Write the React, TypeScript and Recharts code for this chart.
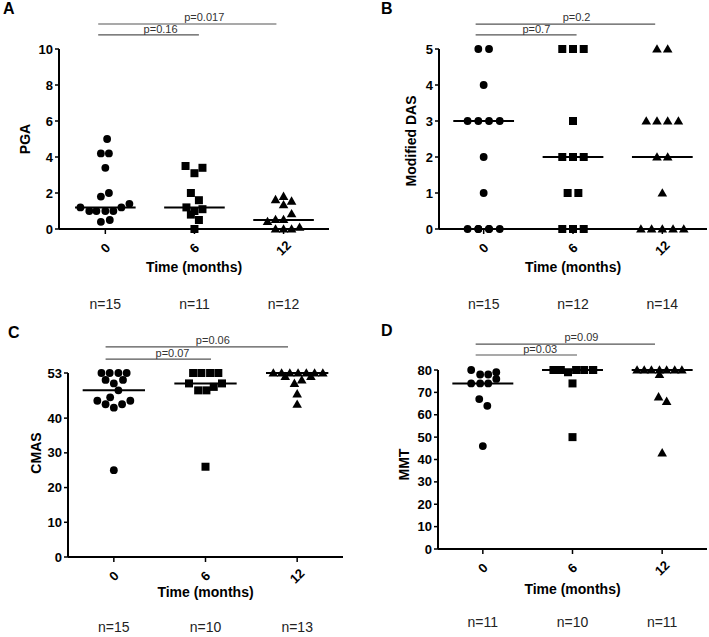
import React from 'react';
import { ReferenceDot, ReferenceLine, Scatter, ScatterChart, XAxis, YAxis } from 'recharts';

// each point: [jitter inside its time group, value]
type Pt = [number, number];
type PBracket = { from: number; to: number; y: number; text: string; at: number };

const MONTHS = ['0', '6', '12'];
const GROUP_TICKS = [0, 1, 2];

// A - PGA
const pga0: Pt[] = [
  [0.02, 5.0], [-0.05, 4.2], [0.04, 4.2], [0, 3.4], [0.04, 2.0], [-0.05, 1.8], [-0.28, 1.2],
  [-0.18, 1.0], [-0.1, 1.0], [0, 1.0], [0.09, 1.0], [0.18, 1.2], [0.27, 1.4], [-0.05, 0.4], [0.05, 0.5],
];
const pga6: Pt[] = [
  [-0.1, 3.5], [0, 3.1], [0.09, 3.4], [-0.04, 2.0], [0.05, 1.6], [-0.09, 1.2],
  [0, 1.0], [0.09, 1.1], [-0.04, 0.8], [0.05, 0.5], [0, 0],
];
const pga12: Pt[] = [
  [-0.09, 1.63], [0, 1.81], [0.09, 1.55], [0, 1.35], [0.09, 0.85], [-0.18, 0.42],
  [-0.09, 0.53], [0, 0.53], [-0.09, 0], [0, 0], [0.09, 0], [0.18, 0.1],
];
const pgaMedians = [1.2, 1.2, 0.5];
const pgaTicks = [0, 2, 4, 6, 8, 10];
const pgaN = ['n=15', 'n=11', 'n=12'];
const pgaP: PBracket[] = [
  { from: -0.08, to: 1.92, y: 11.39, text: 'p=0.017', at: 1.11 },
  { from: -0.08, to: 1.05, y: 10.78, text: 'p=0.16', at: 0.62 },
];

// B - Modified DAS
const das0: Pt[] = [
  [-0.06, 5], [0.06, 5], [0, 4], [-0.18, 3], [-0.06, 3], [0.06, 3], [0.18, 3], [0, 2], [0, 1],
  [-0.18, 0], [-0.06, 0], [0.06, 0], [0.18, 0], [-0.06, 0], [0.06, 0],
];
const das6: Pt[] = [
  [-0.12, 5], [0, 5], [0.12, 5], [0, 3], [-0.12, 2], [0, 2], [0.12, 2], [-0.06, 1], [0.06, 1],
  [-0.12, 0], [0, 0], [0.12, 0],
];
const das12: Pt[] = [
  [-0.06, 5], [0.06, 5], [-0.18, 3], [-0.06, 3], [0.06, 3], [0.18, 3], [-0.06, 2], [0.06, 2], [0, 1],
  [-0.24, 0], [-0.12, 0], [0, 0], [0.12, 0], [0.24, 0],
];
const dasMedians = [3, 2, 2];
const dasTicks = [0, 1, 2, 3, 4, 5];
const dasN = ['n=15', 'n=12', 'n=14'];
const dasP: PBracket[] = [
  { from: -0.09, to: 1.92, y: 5.69, text: 'p=0.2', at: 1.04 },
  { from: -0.09, to: 1.04, y: 5.39, text: 'p=0.7', at: 0.59 },
];

// C - CMAS
const cmas0: Pt[] = [
  [-0.135, 53], [-0.045, 53], [0.05, 53], [0.14, 53], [-0.09, 51], [0.1, 51], [0, 50], [0.05, 48],
  [-0.04, 46], [-0.18, 45], [-0.09, 44], [0, 43], [0.09, 44], [0.18, 45], [0, 25],
];
const cmas6: Pt[] = [
  [-0.135, 53], [-0.045, 53], [0.05, 53], [0.14, 53], [-0.18, 50], [0.18, 50], [0.09, 49],
  [-0.08, 48], [0.01, 48], [0, 26],
];
const cmas12: Pt[] = [
  [-0.26, 53], [-0.17, 53], [-0.08, 53], [0.01, 53], [0.1, 53], [0.19, 53], [0.28, 53],
  [-0.13, 52], [0.15, 52], [-0.03, 50], [0.05, 51], [0, 47], [0, 44],
];
const cmasMedians = [48, 50, 53];
const cmasTicks = [0, 10, 20, 30, 40, 53];
const cmasN = ['n=15', 'n=10', 'n=13'];
const cmasP: PBracket[] = [
  { from: -0.09, to: 1.9, y: 60.5, text: 'p=0.06', at: 1.08 },
  { from: -0.09, to: 1.06, y: 57.0, text: 'p=0.07', at: 0.64 },
];

// D - MMT
const mmt0: Pt[] = [
  [-0.13, 80], [-0.03, 78], [0.06, 78], [0.15, 79], [0.15, 76], [-0.13, 74], [-0.03, 74], [0.06, 74],
  [-0.04, 67], [0.05, 64], [0, 46],
];
const mmt6: Pt[] = [
  [-0.21, 80], [-0.13, 80], [-0.05, 79], [0.04, 80], [0.13, 80], [0.23, 80], [-0.21, 80], [0.23, 80],
  [0, 74], [0, 50],
];
const mmt12: Pt[] = [
  [-0.28, 80], [-0.2, 80], [-0.12, 80], [-0.03, 80], [0.05, 80], [0.14, 80], [0.22, 80], [-0.03, 78],
  [-0.04, 68], [0.05, 66], [0, 43],
];
const mmtMedians = [74, 80, 80];
const mmtTicks = [0, 10, 20, 30, 40, 50, 60, 70, 80];
const mmtN = ['n=11', 'n=10', 'n=11'];
const mmtP: PBracket[] = [
  { from: -0.08, to: 1.92, y: 91.6, text: 'p=0.09', at: 1.1 },
  { from: -0.08, to: 1.05, y: 86.7, text: 'p=0.03', at: 0.64 },
];

const FONT = '"Liberation Sans", Arial, sans-serif';

const Dot = (p: any) => <circle cx={p.cx} cy={p.cy} r={3.9} fill='#000' />;
const Square = (p: any) => <rect x={p.cx - 4} y={p.cy - 4} width={8} height={8} fill='#000' />;
const Triangle = (p: any) => (
  <path d={`M${p.cx},${p.cy - 4.8}L${p.cx + 4.8},${p.cy + 3.6}L${p.cx - 4.8},${p.cy + 3.6}Z`} fill='#000' />
);
const SHAPES = [Dot, Square, Triangle];

// rotated month label, plus the group size further down
const MonthTick = ({ x, y, payload, nLabels, nDy }: any) => {
  const cy = y + 12;
  return (
    <g>
      <text x={x} y={cy} transform={`rotate(-45 ${x} ${cy})`} textAnchor='middle' dominantBaseline='central'
        fontSize={13} fontWeight='bold' fill='#000'>
        {MONTHS[payload.value]}
      </text>
      <text x={x} y={y + nDy} textAnchor='middle' dominantBaseline='central' fontSize={14} fill='#222'>
        {nLabels[payload.value]}
      </text>
    </g>
  );
};

const YTitle = ({ viewBox, value, x0, dy }: any) => {
  if (!viewBox) return null;
  const cx = viewBox.x + x0;
  const cy = viewBox.y + viewBox.height / 2 + dy;
  return (
    <text x={cx} y={cy} transform={`rotate(-90 ${cx} ${cy})`} textAnchor='middle' dominantBaseline='central'
      fontSize={14} fontWeight='bold' fill='#000'>
      {value}
    </text>
  );
};

type PanelProps = {
  letter: string;
  yLabel: string;
  groups: Pt[][];
  medians: number[];
  nLabels: string[];
  yDomain: [number, number];
  yTicks: number[];
  pvals: PBracket[];
  left: number;
  top: number;
  width: number;
  height: number;
  margin: { top: number; right: number; bottom: number; left: number };
  yAxisWidth: number;
  xDomain: [number, number];
  yLabelX: number;
  yLabelDy: number;
  xAxisHeight: number;
  xLabelOffset: number;
  nDy: number;
  letterLeft: number;
  letterTop: number;
};

const Panel: React.FC<PanelProps> = (p) => (
  <div style={{ position: 'absolute', left: p.left, top: p.top, width: p.width, height: p.height }}>
    <div style={{ position: 'absolute', left: p.letterLeft, top: p.letterTop, fontSize: 16, lineHeight: '16px', fontWeight: 'bold' }}>
      {p.letter}
    </div>
    <ScatterChart width={p.width} height={p.height} margin={p.margin} style={{ overflow: 'visible' }}>
      <XAxis
        dataKey='x'
        type='number'
        domain={p.xDomain}
        ticks={GROUP_TICKS}
        interval={0}
        height={p.xAxisHeight}
        axisLine={{ stroke: '#000', strokeWidth: 2 }}
        tickLine={{ stroke: '#000', strokeWidth: 1.5 }}
        tickSize={5}
        tickMargin={2}
        tick={(t: any) => <MonthTick {...t} nLabels={p.nLabels} nDy={p.nDy} />}
        label={{ value: 'Time (months)', position: 'insideBottom', offset: p.xLabelOffset, fontSize: 14, fontWeight: 'bold', fill: '#000' }}
      />
      <YAxis
        dataKey='y'
        type='number'
        domain={p.yDomain}
        ticks={p.yTicks}
        interval={0}
        width={p.yAxisWidth}
        axisLine={{ stroke: '#000', strokeWidth: 2 }}
        tickLine={{ stroke: '#000', strokeWidth: 1.5 }}
        tickSize={4}
        tickMargin={2}
        tick={{ fontSize: 13, fontWeight: 'bold', fill: '#000' }}
        label={{ value: p.yLabel, content: (l: any) => <YTitle {...l} x0={p.yLabelX} dy={p.yLabelDy} /> }}
      />
      {p.groups.map((g, i) => (
        <Scatter
          key={`g-${i}`}
          data={g.map(([dx, v]) => ({ x: i + dx, y: v }))}
          shape={SHAPES[i]}
          isAnimationActive={false}
        />
      ))}
      {p.medians.map((m, i) => (
        <ReferenceLine
          key={`m-${i}`}
          segment={[{ x: i - 0.34, y: m }, { x: i + 0.34, y: m }]}
          stroke='#000'
          strokeWidth={2}
          ifOverflow='visible'
        />
      ))}
      {p.pvals.map((b, i) => (
        <ReferenceLine
          key={`b-${i}`}
          segment={[{ x: b.from, y: b.y }, { x: b.to, y: b.y }]}
          stroke='#555'
          strokeWidth={1.2}
          ifOverflow='visible'
        />
      ))}
      {p.pvals.map((b, i) => (
        <ReferenceDot
          key={`t-${i}`}
          x={b.at}
          y={b.y}
          r={0}
          stroke='none'
          fill='none'
          ifOverflow='visible'
          label={{ value: b.text, position: 'top', offset: i === 0 ? 3 : 2, fontSize: 11, fill: '#333' }}
        />
      ))}
    </ScatterChart>
  </div>
);

export default function App() {
  return (
    <div style={{ position: 'absolute', left: 0, top: 0, width: 709, height: 637, background: '#fff', fontFamily: FONT, overflow: 'hidden' }}>
      <Panel
        letter='A' yLabel='PGA' groups={[pga0, pga6, pga12]} medians={pgaMedians} nLabels={pgaN}
        yDomain={[0, 10]} yTicks={pgaTicks} pvals={pgaP}
        left={0} top={0} width={354} height={315}
        margin={{ top: 49, right: 25, bottom: 41, left: 0 }} yAxisWidth={59} xDomain={[-0.52, 2.51]}
        yLabelX={25} yLabelDy={0} xAxisHeight={45} xLabelOffset={2.5} nDy={68}
        letterLeft={3} letterTop={1}
      />
      <Panel
        letter='B' yLabel='Modified DAS' groups={[das0, das6, das12]} medians={dasMedians} nLabels={dasN}
        yDomain={[0, 5]} yTicks={dasTicks} pvals={dasP}
        left={354} top={0} width={355} height={315}
        margin={{ top: 49, right: 2, bottom: 41, left: 0 }} yAxisWidth={85} xDomain={[-0.5, 2.5]}
        yLabelX={57} yLabelDy={2} xAxisHeight={45} xLabelOffset={2.5} nDy={68}
        letterLeft={27} letterTop={1}
      />
      <Panel
        letter='C' yLabel='CMAS' groups={[cmas0, cmas6, cmas12]} medians={cmasMedians} nLabels={cmasN}
        yDomain={[0, 53]} yTicks={cmasTicks} pvals={cmasP}
        left={0} top={310} width={354} height={327}
        margin={{ top: 63, right: 11, bottom: 35, left: 0 }} yAxisWidth={68} xDomain={[-0.5, 2.5]}
        yLabelX={36} yLabelDy={-12} xAxisHeight={45} xLabelOffset={5} nDy={63}
        letterLeft={8} letterTop={15}
      />
      <Panel
        letter='D' yLabel='MMT' groups={[mmt0, mmt6, mmt12]} medians={mmtMedians} nLabels={mmtN}
        yDomain={[0, 80]} yTicks={mmtTicks} pvals={mmtP}
        left={354} top={310} width={355} height={327}
        margin={{ top: 60, right: 2, bottom: 40, left: 0 }} yAxisWidth={84} xDomain={[-0.5, 2.5]}
        yLabelX={50} yLabelDy={5} xAxisHeight={48} xLabelOffset={3} nDy={65.5}
        letterLeft={27} letterTop={13}
      />
    </div>
  );
}
